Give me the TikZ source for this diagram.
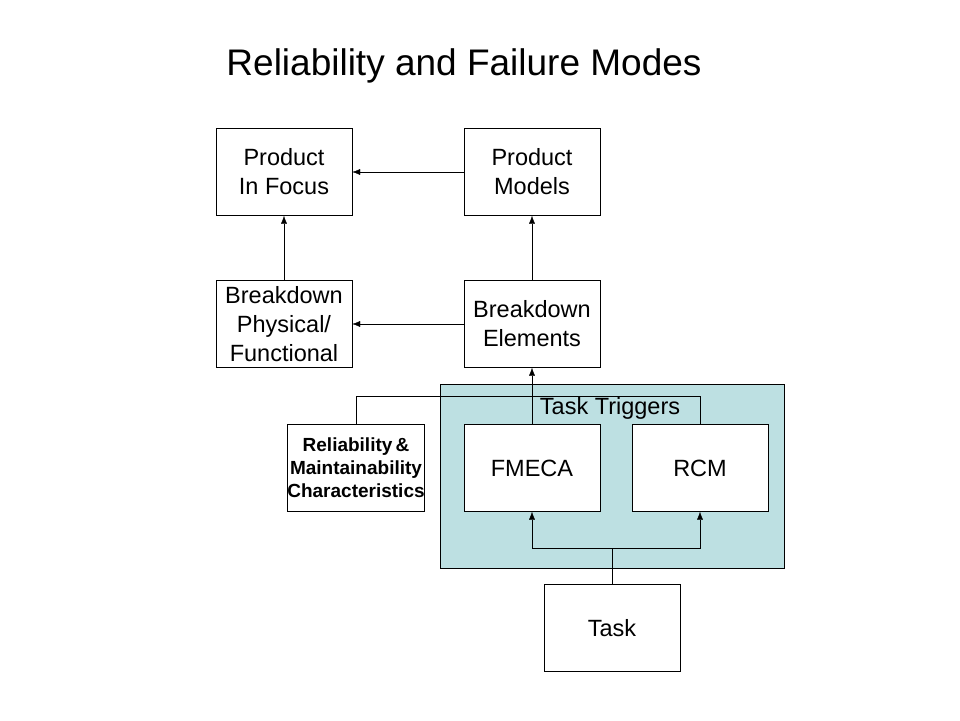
\documentclass[tikz,border=0pt]{standalone}
\usepackage{fontspec}
\setmainfont{Liberation Sans}
\usetikzlibrary{arrows.meta}
\definecolor{trigbg}{RGB}{189,224,226}
\begin{document}
\begin{tikzpicture}[x=1pt,y=-1pt,
 box/.style={draw,fill=white,minimum width=136pt,minimum height=87pt,align=center,font=\fontsize{23.5}{29}\selectfont,inner sep=0pt},
 arr/.style={-{Latex[length=8pt,width=6pt]}}]
\useasboundingbox (0,0) rectangle (960,720);
\node[font=\fontsize{37}{42}\selectfont] (title) at (464,66) {Reliability and Failure Modes};
\node[draw,fill=trigbg,minimum width=344pt,minimum height=184pt,inner sep=0pt] (trig) at (612,476) {};
\node[box] (pif) at (284,172) {Product\\In Focus};
\node[box] (pm) at (532,172) {Product\\Models};
\node[box] (bpf) at (284,324) {Breakdown\\Physical/\\Functional};
\node[box] (be) at (532,324) {Breakdown\\Elements};
\node[box,font=\bfseries\fontsize{19}{23}\selectfont] (rm) at (356,468) {Reliability\,\&\\Maintainability\\Characteristics};
\node[box] (fm) at (532,468) {FMECA};
\node[box] (rcm) at (700,468) {RCM};
\node[box] (task) at (612,628) {Task};
\node[font=\fontsize{23.5}{28}\selectfont] (tt) at (610,408) {Task Triggers};
\coordinate (j) at (612,548);
\draw[arr] (pm) -- (pif);
\draw[arr] (be) -- (bpf);
\draw[arr] (bpf) -- (pif);
\draw[arr] (be) -- (pm);
\draw[arr] (fm) -- (be);
\draw (rm.north) |- (356,396) -| (rcm.north);
\draw (task.north) -- (j);
\draw[arr] (j) -| (fm.south);
\draw[arr] (j) -| (rcm.south);
\end{tikzpicture}
\end{document}
